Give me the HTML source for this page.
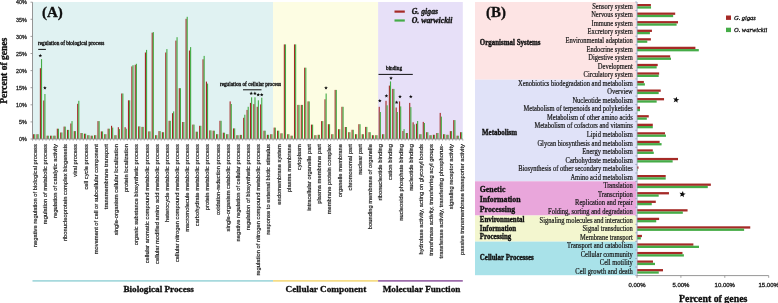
<!DOCTYPE html><html><head><meta charset="utf-8"><style>html,body{margin:0;padding:0;background:#fff;width:778px;height:303px;overflow:hidden}svg{display:block}text{font-family:"Liberation Serif",serif}.s{font-family:"Liberation Sans",sans-serif}</style></head><body>
<svg width="778" height="303" viewBox="0 0 778 303">
<defs><filter id="bl" x="0" y="0" width="100%" height="100%"><feGaussianBlur stdDeviation="0.35"/></filter></defs>
<rect width="778" height="303" fill="#fff"/>
<g filter="url(#bl)">
<rect x="32.5" y="2.00" width="240.56" height="137.00" fill="#e0f2f2"/>
<rect x="273.06" y="2.00" width="105.03" height="137.00" fill="#fdfde3"/>
<rect x="378.10" y="2.00" width="84.70" height="137.00" fill="#e7e0f8"/>
<rect x="33.07" y="134.20" width="1.12" height="4.80" fill="#a52a27"/>
<rect x="34.19" y="134.20" width="1.12" height="4.80" fill="#45ac47"/>
<rect x="36.46" y="134.20" width="1.12" height="4.80" fill="#a52a27"/>
<rect x="37.58" y="134.20" width="1.12" height="4.80" fill="#45ac47"/>
<rect x="39.85" y="68.20" width="1.12" height="70.80" fill="#a52a27"/>
<rect x="40.97" y="59.10" width="1.12" height="79.90" fill="#45ac47"/>
<rect x="43.24" y="100.50" width="1.12" height="38.50" fill="#a52a27"/>
<rect x="44.36" y="94.00" width="1.12" height="45.00" fill="#45ac47"/>
<rect x="46.63" y="135.70" width="1.12" height="3.30" fill="#a52a27"/>
<rect x="47.75" y="135.70" width="1.12" height="3.30" fill="#45ac47"/>
<rect x="50.02" y="135.70" width="1.12" height="3.30" fill="#a52a27"/>
<rect x="51.14" y="135.70" width="1.12" height="3.30" fill="#45ac47"/>
<rect x="53.40" y="135.70" width="1.12" height="3.30" fill="#a52a27"/>
<rect x="54.52" y="135.70" width="1.12" height="3.30" fill="#45ac47"/>
<rect x="56.79" y="128.70" width="1.12" height="10.30" fill="#a52a27"/>
<rect x="57.91" y="128.70" width="1.12" height="10.30" fill="#45ac47"/>
<rect x="60.18" y="132.50" width="1.12" height="6.50" fill="#a52a27"/>
<rect x="61.30" y="132.50" width="1.12" height="6.50" fill="#45ac47"/>
<rect x="63.57" y="126.60" width="1.12" height="12.40" fill="#a52a27"/>
<rect x="64.69" y="126.60" width="1.12" height="12.40" fill="#45ac47"/>
<rect x="66.96" y="129.90" width="1.12" height="9.10" fill="#a52a27"/>
<rect x="68.08" y="129.90" width="1.12" height="9.10" fill="#45ac47"/>
<rect x="70.34" y="123.50" width="1.12" height="15.50" fill="#a52a27"/>
<rect x="71.46" y="121.10" width="1.12" height="17.90" fill="#45ac47"/>
<rect x="73.73" y="131.10" width="1.12" height="7.90" fill="#a52a27"/>
<rect x="74.85" y="131.10" width="1.12" height="7.90" fill="#45ac47"/>
<rect x="77.12" y="103.80" width="1.12" height="35.20" fill="#a52a27"/>
<rect x="78.24" y="100.80" width="1.12" height="38.20" fill="#45ac47"/>
<rect x="80.51" y="133.00" width="1.12" height="6.00" fill="#a52a27"/>
<rect x="81.63" y="133.00" width="1.12" height="6.00" fill="#45ac47"/>
<rect x="83.90" y="133.70" width="1.12" height="5.30" fill="#a52a27"/>
<rect x="85.02" y="133.70" width="1.12" height="5.30" fill="#45ac47"/>
<rect x="87.29" y="135.20" width="1.12" height="3.80" fill="#a52a27"/>
<rect x="88.41" y="135.20" width="1.12" height="3.80" fill="#45ac47"/>
<rect x="90.67" y="135.70" width="1.12" height="3.30" fill="#a52a27"/>
<rect x="91.79" y="135.70" width="1.12" height="3.30" fill="#45ac47"/>
<rect x="94.06" y="135.20" width="1.12" height="3.80" fill="#a52a27"/>
<rect x="95.18" y="135.20" width="1.12" height="3.80" fill="#45ac47"/>
<rect x="97.45" y="121.10" width="1.12" height="17.90" fill="#a52a27"/>
<rect x="98.57" y="121.10" width="1.12" height="17.90" fill="#45ac47"/>
<rect x="100.84" y="131.40" width="1.12" height="7.60" fill="#a52a27"/>
<rect x="101.96" y="131.40" width="1.12" height="7.60" fill="#45ac47"/>
<rect x="104.23" y="134.20" width="1.12" height="4.80" fill="#a52a27"/>
<rect x="105.35" y="134.20" width="1.12" height="4.80" fill="#45ac47"/>
<rect x="107.61" y="128.70" width="1.12" height="10.30" fill="#a52a27"/>
<rect x="108.73" y="128.70" width="1.12" height="10.30" fill="#45ac47"/>
<rect x="111.00" y="125.80" width="1.12" height="13.20" fill="#a52a27"/>
<rect x="112.12" y="127.60" width="1.12" height="11.40" fill="#45ac47"/>
<rect x="114.39" y="135.20" width="1.12" height="3.80" fill="#a52a27"/>
<rect x="115.51" y="135.20" width="1.12" height="3.80" fill="#45ac47"/>
<rect x="117.78" y="127.20" width="1.12" height="11.80" fill="#a52a27"/>
<rect x="118.90" y="129.10" width="1.12" height="9.90" fill="#45ac47"/>
<rect x="121.17" y="93.50" width="1.12" height="45.50" fill="#a52a27"/>
<rect x="122.29" y="93.50" width="1.12" height="45.50" fill="#45ac47"/>
<rect x="124.56" y="127.20" width="1.12" height="11.80" fill="#a52a27"/>
<rect x="125.68" y="128.70" width="1.12" height="10.30" fill="#45ac47"/>
<rect x="127.94" y="100.30" width="1.12" height="38.70" fill="#a52a27"/>
<rect x="129.06" y="100.30" width="1.12" height="38.70" fill="#45ac47"/>
<rect x="131.33" y="66.40" width="1.12" height="72.60" fill="#a52a27"/>
<rect x="132.45" y="65.20" width="1.12" height="73.80" fill="#45ac47"/>
<rect x="134.72" y="64.80" width="1.12" height="74.20" fill="#a52a27"/>
<rect x="135.84" y="63.80" width="1.12" height="75.20" fill="#45ac47"/>
<rect x="138.11" y="126.40" width="1.12" height="12.60" fill="#a52a27"/>
<rect x="139.23" y="126.40" width="1.12" height="12.60" fill="#45ac47"/>
<rect x="141.50" y="126.90" width="1.12" height="12.10" fill="#a52a27"/>
<rect x="142.62" y="126.90" width="1.12" height="12.10" fill="#45ac47"/>
<rect x="144.88" y="52.50" width="1.12" height="86.50" fill="#a52a27"/>
<rect x="146.00" y="49.90" width="1.12" height="89.10" fill="#45ac47"/>
<rect x="148.27" y="131.40" width="1.12" height="7.60" fill="#a52a27"/>
<rect x="149.39" y="131.40" width="1.12" height="7.60" fill="#45ac47"/>
<rect x="151.66" y="32.70" width="1.12" height="106.30" fill="#a52a27"/>
<rect x="152.78" y="32.10" width="1.12" height="106.90" fill="#45ac47"/>
<rect x="155.05" y="135.20" width="1.12" height="3.80" fill="#a52a27"/>
<rect x="156.17" y="135.20" width="1.12" height="3.80" fill="#45ac47"/>
<rect x="158.44" y="131.10" width="1.12" height="7.90" fill="#a52a27"/>
<rect x="159.56" y="131.10" width="1.12" height="7.90" fill="#45ac47"/>
<rect x="161.83" y="132.20" width="1.12" height="6.80" fill="#a52a27"/>
<rect x="162.95" y="132.20" width="1.12" height="6.80" fill="#45ac47"/>
<rect x="165.21" y="52.50" width="1.12" height="86.50" fill="#a52a27"/>
<rect x="166.33" y="49.10" width="1.12" height="89.90" fill="#45ac47"/>
<rect x="168.60" y="120.80" width="1.12" height="18.20" fill="#a52a27"/>
<rect x="169.72" y="120.80" width="1.12" height="18.20" fill="#45ac47"/>
<rect x="171.99" y="113.20" width="1.12" height="25.80" fill="#a52a27"/>
<rect x="173.11" y="111.40" width="1.12" height="27.60" fill="#45ac47"/>
<rect x="175.38" y="40.60" width="1.12" height="98.40" fill="#a52a27"/>
<rect x="176.50" y="37.20" width="1.12" height="101.80" fill="#45ac47"/>
<rect x="178.77" y="88.20" width="1.12" height="50.80" fill="#a52a27"/>
<rect x="179.89" y="88.20" width="1.12" height="50.80" fill="#45ac47"/>
<rect x="182.15" y="122.00" width="1.12" height="17.00" fill="#a52a27"/>
<rect x="183.27" y="122.00" width="1.12" height="17.00" fill="#45ac47"/>
<rect x="185.54" y="18.80" width="1.12" height="120.20" fill="#a52a27"/>
<rect x="186.66" y="16.80" width="1.12" height="122.20" fill="#45ac47"/>
<rect x="188.93" y="50.50" width="1.12" height="88.50" fill="#a52a27"/>
<rect x="190.05" y="47.10" width="1.12" height="91.90" fill="#45ac47"/>
<rect x="192.32" y="124.60" width="1.12" height="14.40" fill="#a52a27"/>
<rect x="193.44" y="124.60" width="1.12" height="14.40" fill="#45ac47"/>
<rect x="195.71" y="131.70" width="1.12" height="7.30" fill="#a52a27"/>
<rect x="196.83" y="131.70" width="1.12" height="7.30" fill="#45ac47"/>
<rect x="199.10" y="125.80" width="1.12" height="13.20" fill="#a52a27"/>
<rect x="200.22" y="125.80" width="1.12" height="13.20" fill="#45ac47"/>
<rect x="202.48" y="59.30" width="1.12" height="79.70" fill="#a52a27"/>
<rect x="203.60" y="55.90" width="1.12" height="83.10" fill="#45ac47"/>
<rect x="205.87" y="81.60" width="1.12" height="57.40" fill="#a52a27"/>
<rect x="206.99" y="83.60" width="1.12" height="55.40" fill="#45ac47"/>
<rect x="209.26" y="130.40" width="1.12" height="8.60" fill="#a52a27"/>
<rect x="210.38" y="130.40" width="1.12" height="8.60" fill="#45ac47"/>
<rect x="212.65" y="130.70" width="1.12" height="8.30" fill="#a52a27"/>
<rect x="213.77" y="130.70" width="1.12" height="8.30" fill="#45ac47"/>
<rect x="216.04" y="134.20" width="1.12" height="4.80" fill="#a52a27"/>
<rect x="217.16" y="134.20" width="1.12" height="4.80" fill="#45ac47"/>
<rect x="219.42" y="120.80" width="1.12" height="18.20" fill="#a52a27"/>
<rect x="220.54" y="120.80" width="1.12" height="18.20" fill="#45ac47"/>
<rect x="222.81" y="132.70" width="1.12" height="6.30" fill="#a52a27"/>
<rect x="223.93" y="132.70" width="1.12" height="6.30" fill="#45ac47"/>
<rect x="226.20" y="134.20" width="1.12" height="4.80" fill="#a52a27"/>
<rect x="227.32" y="134.20" width="1.12" height="4.80" fill="#45ac47"/>
<rect x="229.59" y="101.40" width="1.12" height="37.60" fill="#a52a27"/>
<rect x="230.71" y="104.00" width="1.12" height="35.00" fill="#45ac47"/>
<rect x="232.98" y="128.40" width="1.12" height="10.60" fill="#a52a27"/>
<rect x="234.10" y="128.40" width="1.12" height="10.60" fill="#45ac47"/>
<rect x="236.37" y="135.20" width="1.12" height="3.80" fill="#a52a27"/>
<rect x="237.49" y="135.20" width="1.12" height="3.80" fill="#45ac47"/>
<rect x="239.75" y="134.90" width="1.12" height="4.10" fill="#a52a27"/>
<rect x="240.87" y="134.90" width="1.12" height="4.10" fill="#45ac47"/>
<rect x="243.14" y="117.80" width="1.12" height="21.20" fill="#a52a27"/>
<rect x="244.26" y="114.70" width="1.12" height="24.30" fill="#45ac47"/>
<rect x="246.53" y="109.90" width="1.12" height="29.10" fill="#a52a27"/>
<rect x="247.65" y="106.80" width="1.12" height="32.20" fill="#45ac47"/>
<rect x="249.92" y="102.90" width="1.12" height="36.10" fill="#a52a27"/>
<rect x="251.04" y="97.30" width="1.12" height="41.70" fill="#45ac47"/>
<rect x="253.31" y="104.10" width="1.12" height="34.90" fill="#a52a27"/>
<rect x="254.43" y="97.30" width="1.12" height="41.70" fill="#45ac47"/>
<rect x="256.69" y="106.80" width="1.12" height="32.20" fill="#a52a27"/>
<rect x="257.81" y="100.30" width="1.12" height="38.70" fill="#45ac47"/>
<rect x="260.08" y="104.40" width="1.12" height="34.60" fill="#a52a27"/>
<rect x="261.20" y="97.70" width="1.12" height="41.30" fill="#45ac47"/>
<rect x="263.47" y="130.70" width="1.12" height="8.30" fill="#a52a27"/>
<rect x="264.59" y="130.70" width="1.12" height="8.30" fill="#45ac47"/>
<rect x="266.86" y="134.80" width="1.12" height="4.20" fill="#a52a27"/>
<rect x="267.98" y="134.80" width="1.12" height="4.20" fill="#45ac47"/>
<rect x="270.25" y="134.20" width="1.12" height="4.80" fill="#a52a27"/>
<rect x="271.37" y="134.20" width="1.12" height="4.80" fill="#45ac47"/>
<rect x="273.64" y="127.60" width="1.12" height="11.40" fill="#a52a27"/>
<rect x="274.76" y="127.60" width="1.12" height="11.40" fill="#45ac47"/>
<rect x="277.02" y="130.70" width="1.12" height="8.30" fill="#a52a27"/>
<rect x="278.14" y="130.70" width="1.12" height="8.30" fill="#45ac47"/>
<rect x="280.41" y="133.30" width="1.12" height="5.70" fill="#a52a27"/>
<rect x="281.53" y="133.30" width="1.12" height="5.70" fill="#45ac47"/>
<rect x="283.80" y="44.40" width="1.12" height="94.60" fill="#a52a27"/>
<rect x="284.92" y="44.40" width="1.12" height="94.60" fill="#45ac47"/>
<rect x="287.19" y="134.20" width="1.12" height="4.80" fill="#a52a27"/>
<rect x="288.31" y="134.20" width="1.12" height="4.80" fill="#45ac47"/>
<rect x="290.58" y="135.70" width="1.12" height="3.30" fill="#a52a27"/>
<rect x="291.70" y="135.70" width="1.12" height="3.30" fill="#45ac47"/>
<rect x="293.96" y="44.40" width="1.12" height="94.60" fill="#a52a27"/>
<rect x="295.08" y="44.40" width="1.12" height="94.60" fill="#45ac47"/>
<rect x="297.35" y="104.90" width="1.12" height="34.10" fill="#a52a27"/>
<rect x="298.47" y="104.90" width="1.12" height="34.10" fill="#45ac47"/>
<rect x="300.74" y="104.90" width="1.12" height="34.10" fill="#a52a27"/>
<rect x="301.86" y="104.90" width="1.12" height="34.10" fill="#45ac47"/>
<rect x="304.13" y="67.70" width="1.12" height="71.30" fill="#a52a27"/>
<rect x="305.25" y="67.70" width="1.12" height="71.30" fill="#45ac47"/>
<rect x="307.52" y="101.40" width="1.12" height="37.60" fill="#a52a27"/>
<rect x="308.64" y="101.40" width="1.12" height="37.60" fill="#45ac47"/>
<rect x="310.91" y="124.60" width="1.12" height="14.40" fill="#a52a27"/>
<rect x="312.03" y="124.60" width="1.12" height="14.40" fill="#45ac47"/>
<rect x="314.29" y="135.20" width="1.12" height="3.80" fill="#a52a27"/>
<rect x="315.41" y="135.20" width="1.12" height="3.80" fill="#45ac47"/>
<rect x="317.68" y="134.80" width="1.12" height="4.20" fill="#a52a27"/>
<rect x="318.80" y="134.80" width="1.12" height="4.20" fill="#45ac47"/>
<rect x="321.07" y="121.10" width="1.12" height="17.90" fill="#a52a27"/>
<rect x="322.19" y="121.10" width="1.12" height="17.90" fill="#45ac47"/>
<rect x="324.46" y="99.30" width="1.12" height="39.70" fill="#a52a27"/>
<rect x="325.58" y="93.50" width="1.12" height="45.50" fill="#45ac47"/>
<rect x="327.85" y="124.20" width="1.12" height="14.80" fill="#a52a27"/>
<rect x="328.97" y="124.20" width="1.12" height="14.80" fill="#45ac47"/>
<rect x="331.23" y="134.20" width="1.12" height="4.80" fill="#a52a27"/>
<rect x="332.35" y="134.20" width="1.12" height="4.80" fill="#45ac47"/>
<rect x="334.62" y="89.90" width="1.12" height="49.10" fill="#a52a27"/>
<rect x="335.74" y="89.90" width="1.12" height="49.10" fill="#45ac47"/>
<rect x="338.01" y="129.20" width="1.12" height="9.80" fill="#a52a27"/>
<rect x="339.13" y="129.20" width="1.12" height="9.80" fill="#45ac47"/>
<rect x="341.40" y="106.80" width="1.12" height="32.20" fill="#a52a27"/>
<rect x="342.52" y="106.80" width="1.12" height="32.20" fill="#45ac47"/>
<rect x="344.79" y="127.00" width="1.12" height="12.00" fill="#a52a27"/>
<rect x="345.91" y="127.00" width="1.12" height="12.00" fill="#45ac47"/>
<rect x="348.18" y="132.20" width="1.12" height="6.80" fill="#a52a27"/>
<rect x="349.30" y="132.20" width="1.12" height="6.80" fill="#45ac47"/>
<rect x="351.56" y="129.80" width="1.12" height="9.20" fill="#a52a27"/>
<rect x="352.68" y="129.80" width="1.12" height="9.20" fill="#45ac47"/>
<rect x="354.95" y="134.20" width="1.12" height="4.80" fill="#a52a27"/>
<rect x="356.07" y="134.20" width="1.12" height="4.80" fill="#45ac47"/>
<rect x="358.34" y="124.20" width="1.12" height="14.80" fill="#a52a27"/>
<rect x="359.46" y="124.20" width="1.12" height="14.80" fill="#45ac47"/>
<rect x="361.73" y="134.20" width="1.12" height="4.80" fill="#a52a27"/>
<rect x="362.85" y="134.20" width="1.12" height="4.80" fill="#45ac47"/>
<rect x="365.12" y="126.90" width="1.12" height="12.10" fill="#a52a27"/>
<rect x="366.24" y="126.90" width="1.12" height="12.10" fill="#45ac47"/>
<rect x="368.50" y="132.20" width="1.12" height="6.80" fill="#a52a27"/>
<rect x="369.62" y="132.20" width="1.12" height="6.80" fill="#45ac47"/>
<rect x="371.89" y="135.20" width="1.12" height="3.80" fill="#a52a27"/>
<rect x="373.01" y="135.20" width="1.12" height="3.80" fill="#45ac47"/>
<rect x="375.28" y="135.20" width="1.12" height="3.80" fill="#a52a27"/>
<rect x="376.40" y="135.20" width="1.12" height="3.80" fill="#45ac47"/>
<rect x="378.67" y="106.80" width="1.12" height="32.20" fill="#a52a27"/>
<rect x="379.79" y="112.00" width="1.12" height="27.00" fill="#45ac47"/>
<rect x="382.06" y="134.20" width="1.12" height="4.80" fill="#a52a27"/>
<rect x="383.18" y="134.20" width="1.12" height="4.80" fill="#45ac47"/>
<rect x="385.45" y="100.80" width="1.12" height="38.20" fill="#a52a27"/>
<rect x="386.57" y="105.30" width="1.12" height="33.70" fill="#45ac47"/>
<rect x="388.83" y="85.60" width="1.12" height="53.40" fill="#a52a27"/>
<rect x="389.95" y="81.40" width="1.12" height="57.60" fill="#45ac47"/>
<rect x="392.22" y="88.90" width="1.12" height="50.10" fill="#a52a27"/>
<rect x="393.34" y="88.90" width="1.12" height="50.10" fill="#45ac47"/>
<rect x="395.61" y="107.50" width="1.12" height="31.50" fill="#a52a27"/>
<rect x="396.73" y="112.00" width="1.12" height="27.00" fill="#45ac47"/>
<rect x="399.00" y="101.40" width="1.12" height="37.60" fill="#a52a27"/>
<rect x="400.12" y="106.40" width="1.12" height="32.60" fill="#45ac47"/>
<rect x="402.39" y="131.00" width="1.12" height="8.00" fill="#a52a27"/>
<rect x="403.51" y="129.10" width="1.12" height="9.90" fill="#45ac47"/>
<rect x="405.77" y="133.00" width="1.12" height="6.00" fill="#a52a27"/>
<rect x="406.89" y="133.00" width="1.12" height="6.00" fill="#45ac47"/>
<rect x="409.16" y="102.90" width="1.12" height="36.10" fill="#a52a27"/>
<rect x="410.28" y="107.10" width="1.12" height="31.90" fill="#45ac47"/>
<rect x="412.55" y="122.30" width="1.12" height="16.70" fill="#a52a27"/>
<rect x="413.67" y="124.40" width="1.12" height="14.60" fill="#45ac47"/>
<rect x="415.94" y="123.70" width="1.12" height="15.30" fill="#a52a27"/>
<rect x="417.06" y="121.00" width="1.12" height="18.00" fill="#45ac47"/>
<rect x="419.33" y="134.20" width="1.12" height="4.80" fill="#a52a27"/>
<rect x="420.45" y="134.20" width="1.12" height="4.80" fill="#45ac47"/>
<rect x="422.72" y="121.90" width="1.12" height="17.10" fill="#a52a27"/>
<rect x="423.84" y="123.00" width="1.12" height="16.00" fill="#45ac47"/>
<rect x="426.10" y="132.20" width="1.12" height="6.80" fill="#a52a27"/>
<rect x="427.22" y="132.20" width="1.12" height="6.80" fill="#45ac47"/>
<rect x="429.49" y="135.20" width="1.12" height="3.80" fill="#a52a27"/>
<rect x="430.61" y="135.20" width="1.12" height="3.80" fill="#45ac47"/>
<rect x="432.88" y="134.80" width="1.12" height="4.20" fill="#a52a27"/>
<rect x="434.00" y="134.80" width="1.12" height="4.20" fill="#45ac47"/>
<rect x="436.27" y="133.00" width="1.12" height="6.00" fill="#a52a27"/>
<rect x="437.39" y="133.00" width="1.12" height="6.00" fill="#45ac47"/>
<rect x="439.66" y="112.90" width="1.12" height="26.10" fill="#a52a27"/>
<rect x="440.78" y="116.60" width="1.12" height="22.40" fill="#45ac47"/>
<rect x="443.04" y="134.20" width="1.12" height="4.80" fill="#a52a27"/>
<rect x="444.16" y="134.20" width="1.12" height="4.80" fill="#45ac47"/>
<rect x="446.43" y="134.80" width="1.12" height="4.20" fill="#a52a27"/>
<rect x="447.55" y="134.80" width="1.12" height="4.20" fill="#45ac47"/>
<rect x="449.82" y="131.10" width="1.12" height="7.90" fill="#a52a27"/>
<rect x="450.94" y="131.10" width="1.12" height="7.90" fill="#45ac47"/>
<rect x="453.21" y="120.10" width="1.12" height="18.90" fill="#a52a27"/>
<rect x="454.33" y="120.10" width="1.12" height="18.90" fill="#45ac47"/>
<rect x="456.60" y="135.70" width="1.12" height="3.30" fill="#a52a27"/>
<rect x="457.72" y="135.70" width="1.12" height="3.30" fill="#45ac47"/>
<rect x="459.99" y="132.20" width="1.12" height="6.80" fill="#a52a27"/>
<rect x="461.11" y="132.20" width="1.12" height="6.80" fill="#45ac47"/>
<line x1="32.5" y1="2.2" x2="32.5" y2="139.0" stroke="#8a8a8a" stroke-width="0.9"/>
<line x1="30.5" y1="139.00" x2="32.5" y2="139.00" stroke="#8a8a8a" stroke-width="0.8"/>
<text class="s" transform="translate(26.80,141.20) scale(0.88,1)" font-size="6.2" fill="#2a2a2a" stroke="#2a2a2a" stroke-width="0.3" text-anchor="end">0%</text>
<line x1="30.5" y1="121.90" x2="32.5" y2="121.90" stroke="#8a8a8a" stroke-width="0.8"/>
<text class="s" transform="translate(26.80,124.10) scale(0.88,1)" font-size="6.2" fill="#2a2a2a" stroke="#2a2a2a" stroke-width="0.3" text-anchor="end">5%</text>
<line x1="30.5" y1="104.80" x2="32.5" y2="104.80" stroke="#8a8a8a" stroke-width="0.8"/>
<text class="s" transform="translate(26.80,107.00) scale(0.88,1)" font-size="6.2" fill="#2a2a2a" stroke="#2a2a2a" stroke-width="0.3" text-anchor="end">10%</text>
<line x1="30.5" y1="87.70" x2="32.5" y2="87.70" stroke="#8a8a8a" stroke-width="0.8"/>
<text class="s" transform="translate(26.80,89.90) scale(0.88,1)" font-size="6.2" fill="#2a2a2a" stroke="#2a2a2a" stroke-width="0.3" text-anchor="end">15%</text>
<line x1="30.5" y1="70.60" x2="32.5" y2="70.60" stroke="#8a8a8a" stroke-width="0.8"/>
<text class="s" transform="translate(26.80,72.80) scale(0.88,1)" font-size="6.2" fill="#2a2a2a" stroke="#2a2a2a" stroke-width="0.3" text-anchor="end">20%</text>
<line x1="30.5" y1="53.50" x2="32.5" y2="53.50" stroke="#8a8a8a" stroke-width="0.8"/>
<text class="s" transform="translate(26.80,55.70) scale(0.88,1)" font-size="6.2" fill="#2a2a2a" stroke="#2a2a2a" stroke-width="0.3" text-anchor="end">25%</text>
<line x1="30.5" y1="36.40" x2="32.5" y2="36.40" stroke="#8a8a8a" stroke-width="0.8"/>
<text class="s" transform="translate(26.80,38.60) scale(0.88,1)" font-size="6.2" fill="#2a2a2a" stroke="#2a2a2a" stroke-width="0.3" text-anchor="end">30%</text>
<line x1="30.5" y1="19.30" x2="32.5" y2="19.30" stroke="#8a8a8a" stroke-width="0.8"/>
<text class="s" transform="translate(26.80,21.50) scale(0.88,1)" font-size="6.2" fill="#2a2a2a" stroke="#2a2a2a" stroke-width="0.3" text-anchor="end">35%</text>
<line x1="30.5" y1="2.20" x2="32.5" y2="2.20" stroke="#8a8a8a" stroke-width="0.8"/>
<text class="s" transform="translate(26.80,4.40) scale(0.88,1)" font-size="6.2" fill="#2a2a2a" stroke="#2a2a2a" stroke-width="0.3" text-anchor="end">40%</text>
<line x1="32.5" y1="139.0" x2="462.8" y2="139.0" stroke="#8a8a8a" stroke-width="0.9"/>
<line x1="32.50" y1="139.0" x2="32.50" y2="140.8" stroke="#8a8a8a" stroke-width="0.6"/>
<line x1="35.89" y1="139.0" x2="35.89" y2="140.8" stroke="#8a8a8a" stroke-width="0.6"/>
<line x1="39.28" y1="139.0" x2="39.28" y2="140.8" stroke="#8a8a8a" stroke-width="0.6"/>
<line x1="42.66" y1="139.0" x2="42.66" y2="140.8" stroke="#8a8a8a" stroke-width="0.6"/>
<line x1="46.05" y1="139.0" x2="46.05" y2="140.8" stroke="#8a8a8a" stroke-width="0.6"/>
<line x1="49.44" y1="139.0" x2="49.44" y2="140.8" stroke="#8a8a8a" stroke-width="0.6"/>
<line x1="52.83" y1="139.0" x2="52.83" y2="140.8" stroke="#8a8a8a" stroke-width="0.6"/>
<line x1="56.22" y1="139.0" x2="56.22" y2="140.8" stroke="#8a8a8a" stroke-width="0.6"/>
<line x1="59.61" y1="139.0" x2="59.61" y2="140.8" stroke="#8a8a8a" stroke-width="0.6"/>
<line x1="62.99" y1="139.0" x2="62.99" y2="140.8" stroke="#8a8a8a" stroke-width="0.6"/>
<line x1="66.38" y1="139.0" x2="66.38" y2="140.8" stroke="#8a8a8a" stroke-width="0.6"/>
<line x1="69.77" y1="139.0" x2="69.77" y2="140.8" stroke="#8a8a8a" stroke-width="0.6"/>
<line x1="73.16" y1="139.0" x2="73.16" y2="140.8" stroke="#8a8a8a" stroke-width="0.6"/>
<line x1="76.55" y1="139.0" x2="76.55" y2="140.8" stroke="#8a8a8a" stroke-width="0.6"/>
<line x1="79.93" y1="139.0" x2="79.93" y2="140.8" stroke="#8a8a8a" stroke-width="0.6"/>
<line x1="83.32" y1="139.0" x2="83.32" y2="140.8" stroke="#8a8a8a" stroke-width="0.6"/>
<line x1="86.71" y1="139.0" x2="86.71" y2="140.8" stroke="#8a8a8a" stroke-width="0.6"/>
<line x1="90.10" y1="139.0" x2="90.10" y2="140.8" stroke="#8a8a8a" stroke-width="0.6"/>
<line x1="93.49" y1="139.0" x2="93.49" y2="140.8" stroke="#8a8a8a" stroke-width="0.6"/>
<line x1="96.88" y1="139.0" x2="96.88" y2="140.8" stroke="#8a8a8a" stroke-width="0.6"/>
<line x1="100.26" y1="139.0" x2="100.26" y2="140.8" stroke="#8a8a8a" stroke-width="0.6"/>
<line x1="103.65" y1="139.0" x2="103.65" y2="140.8" stroke="#8a8a8a" stroke-width="0.6"/>
<line x1="107.04" y1="139.0" x2="107.04" y2="140.8" stroke="#8a8a8a" stroke-width="0.6"/>
<line x1="110.43" y1="139.0" x2="110.43" y2="140.8" stroke="#8a8a8a" stroke-width="0.6"/>
<line x1="113.82" y1="139.0" x2="113.82" y2="140.8" stroke="#8a8a8a" stroke-width="0.6"/>
<line x1="117.20" y1="139.0" x2="117.20" y2="140.8" stroke="#8a8a8a" stroke-width="0.6"/>
<line x1="120.59" y1="139.0" x2="120.59" y2="140.8" stroke="#8a8a8a" stroke-width="0.6"/>
<line x1="123.98" y1="139.0" x2="123.98" y2="140.8" stroke="#8a8a8a" stroke-width="0.6"/>
<line x1="127.37" y1="139.0" x2="127.37" y2="140.8" stroke="#8a8a8a" stroke-width="0.6"/>
<line x1="130.76" y1="139.0" x2="130.76" y2="140.8" stroke="#8a8a8a" stroke-width="0.6"/>
<line x1="134.15" y1="139.0" x2="134.15" y2="140.8" stroke="#8a8a8a" stroke-width="0.6"/>
<line x1="137.53" y1="139.0" x2="137.53" y2="140.8" stroke="#8a8a8a" stroke-width="0.6"/>
<line x1="140.92" y1="139.0" x2="140.92" y2="140.8" stroke="#8a8a8a" stroke-width="0.6"/>
<line x1="144.31" y1="139.0" x2="144.31" y2="140.8" stroke="#8a8a8a" stroke-width="0.6"/>
<line x1="147.70" y1="139.0" x2="147.70" y2="140.8" stroke="#8a8a8a" stroke-width="0.6"/>
<line x1="151.09" y1="139.0" x2="151.09" y2="140.8" stroke="#8a8a8a" stroke-width="0.6"/>
<line x1="154.47" y1="139.0" x2="154.47" y2="140.8" stroke="#8a8a8a" stroke-width="0.6"/>
<line x1="157.86" y1="139.0" x2="157.86" y2="140.8" stroke="#8a8a8a" stroke-width="0.6"/>
<line x1="161.25" y1="139.0" x2="161.25" y2="140.8" stroke="#8a8a8a" stroke-width="0.6"/>
<line x1="164.64" y1="139.0" x2="164.64" y2="140.8" stroke="#8a8a8a" stroke-width="0.6"/>
<line x1="168.03" y1="139.0" x2="168.03" y2="140.8" stroke="#8a8a8a" stroke-width="0.6"/>
<line x1="171.42" y1="139.0" x2="171.42" y2="140.8" stroke="#8a8a8a" stroke-width="0.6"/>
<line x1="174.80" y1="139.0" x2="174.80" y2="140.8" stroke="#8a8a8a" stroke-width="0.6"/>
<line x1="178.19" y1="139.0" x2="178.19" y2="140.8" stroke="#8a8a8a" stroke-width="0.6"/>
<line x1="181.58" y1="139.0" x2="181.58" y2="140.8" stroke="#8a8a8a" stroke-width="0.6"/>
<line x1="184.97" y1="139.0" x2="184.97" y2="140.8" stroke="#8a8a8a" stroke-width="0.6"/>
<line x1="188.36" y1="139.0" x2="188.36" y2="140.8" stroke="#8a8a8a" stroke-width="0.6"/>
<line x1="191.74" y1="139.0" x2="191.74" y2="140.8" stroke="#8a8a8a" stroke-width="0.6"/>
<line x1="195.13" y1="139.0" x2="195.13" y2="140.8" stroke="#8a8a8a" stroke-width="0.6"/>
<line x1="198.52" y1="139.0" x2="198.52" y2="140.8" stroke="#8a8a8a" stroke-width="0.6"/>
<line x1="201.91" y1="139.0" x2="201.91" y2="140.8" stroke="#8a8a8a" stroke-width="0.6"/>
<line x1="205.30" y1="139.0" x2="205.30" y2="140.8" stroke="#8a8a8a" stroke-width="0.6"/>
<line x1="208.69" y1="139.0" x2="208.69" y2="140.8" stroke="#8a8a8a" stroke-width="0.6"/>
<line x1="212.07" y1="139.0" x2="212.07" y2="140.8" stroke="#8a8a8a" stroke-width="0.6"/>
<line x1="215.46" y1="139.0" x2="215.46" y2="140.8" stroke="#8a8a8a" stroke-width="0.6"/>
<line x1="218.85" y1="139.0" x2="218.85" y2="140.8" stroke="#8a8a8a" stroke-width="0.6"/>
<line x1="222.24" y1="139.0" x2="222.24" y2="140.8" stroke="#8a8a8a" stroke-width="0.6"/>
<line x1="225.63" y1="139.0" x2="225.63" y2="140.8" stroke="#8a8a8a" stroke-width="0.6"/>
<line x1="229.01" y1="139.0" x2="229.01" y2="140.8" stroke="#8a8a8a" stroke-width="0.6"/>
<line x1="232.40" y1="139.0" x2="232.40" y2="140.8" stroke="#8a8a8a" stroke-width="0.6"/>
<line x1="235.79" y1="139.0" x2="235.79" y2="140.8" stroke="#8a8a8a" stroke-width="0.6"/>
<line x1="239.18" y1="139.0" x2="239.18" y2="140.8" stroke="#8a8a8a" stroke-width="0.6"/>
<line x1="242.57" y1="139.0" x2="242.57" y2="140.8" stroke="#8a8a8a" stroke-width="0.6"/>
<line x1="245.96" y1="139.0" x2="245.96" y2="140.8" stroke="#8a8a8a" stroke-width="0.6"/>
<line x1="249.34" y1="139.0" x2="249.34" y2="140.8" stroke="#8a8a8a" stroke-width="0.6"/>
<line x1="252.73" y1="139.0" x2="252.73" y2="140.8" stroke="#8a8a8a" stroke-width="0.6"/>
<line x1="256.12" y1="139.0" x2="256.12" y2="140.8" stroke="#8a8a8a" stroke-width="0.6"/>
<line x1="259.51" y1="139.0" x2="259.51" y2="140.8" stroke="#8a8a8a" stroke-width="0.6"/>
<line x1="262.90" y1="139.0" x2="262.90" y2="140.8" stroke="#8a8a8a" stroke-width="0.6"/>
<line x1="266.29" y1="139.0" x2="266.29" y2="140.8" stroke="#8a8a8a" stroke-width="0.6"/>
<line x1="269.67" y1="139.0" x2="269.67" y2="140.8" stroke="#8a8a8a" stroke-width="0.6"/>
<line x1="273.06" y1="139.0" x2="273.06" y2="140.8" stroke="#8a8a8a" stroke-width="0.6"/>
<line x1="276.45" y1="139.0" x2="276.45" y2="140.8" stroke="#8a8a8a" stroke-width="0.6"/>
<line x1="279.84" y1="139.0" x2="279.84" y2="140.8" stroke="#8a8a8a" stroke-width="0.6"/>
<line x1="283.23" y1="139.0" x2="283.23" y2="140.8" stroke="#8a8a8a" stroke-width="0.6"/>
<line x1="286.61" y1="139.0" x2="286.61" y2="140.8" stroke="#8a8a8a" stroke-width="0.6"/>
<line x1="290.00" y1="139.0" x2="290.00" y2="140.8" stroke="#8a8a8a" stroke-width="0.6"/>
<line x1="293.39" y1="139.0" x2="293.39" y2="140.8" stroke="#8a8a8a" stroke-width="0.6"/>
<line x1="296.78" y1="139.0" x2="296.78" y2="140.8" stroke="#8a8a8a" stroke-width="0.6"/>
<line x1="300.17" y1="139.0" x2="300.17" y2="140.8" stroke="#8a8a8a" stroke-width="0.6"/>
<line x1="303.56" y1="139.0" x2="303.56" y2="140.8" stroke="#8a8a8a" stroke-width="0.6"/>
<line x1="306.94" y1="139.0" x2="306.94" y2="140.8" stroke="#8a8a8a" stroke-width="0.6"/>
<line x1="310.33" y1="139.0" x2="310.33" y2="140.8" stroke="#8a8a8a" stroke-width="0.6"/>
<line x1="313.72" y1="139.0" x2="313.72" y2="140.8" stroke="#8a8a8a" stroke-width="0.6"/>
<line x1="317.11" y1="139.0" x2="317.11" y2="140.8" stroke="#8a8a8a" stroke-width="0.6"/>
<line x1="320.50" y1="139.0" x2="320.50" y2="140.8" stroke="#8a8a8a" stroke-width="0.6"/>
<line x1="323.88" y1="139.0" x2="323.88" y2="140.8" stroke="#8a8a8a" stroke-width="0.6"/>
<line x1="327.27" y1="139.0" x2="327.27" y2="140.8" stroke="#8a8a8a" stroke-width="0.6"/>
<line x1="330.66" y1="139.0" x2="330.66" y2="140.8" stroke="#8a8a8a" stroke-width="0.6"/>
<line x1="334.05" y1="139.0" x2="334.05" y2="140.8" stroke="#8a8a8a" stroke-width="0.6"/>
<line x1="337.44" y1="139.0" x2="337.44" y2="140.8" stroke="#8a8a8a" stroke-width="0.6"/>
<line x1="340.83" y1="139.0" x2="340.83" y2="140.8" stroke="#8a8a8a" stroke-width="0.6"/>
<line x1="344.21" y1="139.0" x2="344.21" y2="140.8" stroke="#8a8a8a" stroke-width="0.6"/>
<line x1="347.60" y1="139.0" x2="347.60" y2="140.8" stroke="#8a8a8a" stroke-width="0.6"/>
<line x1="350.99" y1="139.0" x2="350.99" y2="140.8" stroke="#8a8a8a" stroke-width="0.6"/>
<line x1="354.38" y1="139.0" x2="354.38" y2="140.8" stroke="#8a8a8a" stroke-width="0.6"/>
<line x1="357.77" y1="139.0" x2="357.77" y2="140.8" stroke="#8a8a8a" stroke-width="0.6"/>
<line x1="361.15" y1="139.0" x2="361.15" y2="140.8" stroke="#8a8a8a" stroke-width="0.6"/>
<line x1="364.54" y1="139.0" x2="364.54" y2="140.8" stroke="#8a8a8a" stroke-width="0.6"/>
<line x1="367.93" y1="139.0" x2="367.93" y2="140.8" stroke="#8a8a8a" stroke-width="0.6"/>
<line x1="371.32" y1="139.0" x2="371.32" y2="140.8" stroke="#8a8a8a" stroke-width="0.6"/>
<line x1="374.71" y1="139.0" x2="374.71" y2="140.8" stroke="#8a8a8a" stroke-width="0.6"/>
<line x1="378.10" y1="139.0" x2="378.10" y2="140.8" stroke="#8a8a8a" stroke-width="0.6"/>
<line x1="381.48" y1="139.0" x2="381.48" y2="140.8" stroke="#8a8a8a" stroke-width="0.6"/>
<line x1="384.87" y1="139.0" x2="384.87" y2="140.8" stroke="#8a8a8a" stroke-width="0.6"/>
<line x1="388.26" y1="139.0" x2="388.26" y2="140.8" stroke="#8a8a8a" stroke-width="0.6"/>
<line x1="391.65" y1="139.0" x2="391.65" y2="140.8" stroke="#8a8a8a" stroke-width="0.6"/>
<line x1="395.04" y1="139.0" x2="395.04" y2="140.8" stroke="#8a8a8a" stroke-width="0.6"/>
<line x1="398.42" y1="139.0" x2="398.42" y2="140.8" stroke="#8a8a8a" stroke-width="0.6"/>
<line x1="401.81" y1="139.0" x2="401.81" y2="140.8" stroke="#8a8a8a" stroke-width="0.6"/>
<line x1="405.20" y1="139.0" x2="405.20" y2="140.8" stroke="#8a8a8a" stroke-width="0.6"/>
<line x1="408.59" y1="139.0" x2="408.59" y2="140.8" stroke="#8a8a8a" stroke-width="0.6"/>
<line x1="411.98" y1="139.0" x2="411.98" y2="140.8" stroke="#8a8a8a" stroke-width="0.6"/>
<line x1="415.37" y1="139.0" x2="415.37" y2="140.8" stroke="#8a8a8a" stroke-width="0.6"/>
<line x1="418.75" y1="139.0" x2="418.75" y2="140.8" stroke="#8a8a8a" stroke-width="0.6"/>
<line x1="422.14" y1="139.0" x2="422.14" y2="140.8" stroke="#8a8a8a" stroke-width="0.6"/>
<line x1="425.53" y1="139.0" x2="425.53" y2="140.8" stroke="#8a8a8a" stroke-width="0.6"/>
<line x1="428.92" y1="139.0" x2="428.92" y2="140.8" stroke="#8a8a8a" stroke-width="0.6"/>
<line x1="432.31" y1="139.0" x2="432.31" y2="140.8" stroke="#8a8a8a" stroke-width="0.6"/>
<line x1="435.69" y1="139.0" x2="435.69" y2="140.8" stroke="#8a8a8a" stroke-width="0.6"/>
<line x1="439.08" y1="139.0" x2="439.08" y2="140.8" stroke="#8a8a8a" stroke-width="0.6"/>
<line x1="442.47" y1="139.0" x2="442.47" y2="140.8" stroke="#8a8a8a" stroke-width="0.6"/>
<line x1="445.86" y1="139.0" x2="445.86" y2="140.8" stroke="#8a8a8a" stroke-width="0.6"/>
<line x1="449.25" y1="139.0" x2="449.25" y2="140.8" stroke="#8a8a8a" stroke-width="0.6"/>
<line x1="452.64" y1="139.0" x2="452.64" y2="140.8" stroke="#8a8a8a" stroke-width="0.6"/>
<line x1="456.02" y1="139.0" x2="456.02" y2="140.8" stroke="#8a8a8a" stroke-width="0.6"/>
<line x1="459.41" y1="139.0" x2="459.41" y2="140.8" stroke="#8a8a8a" stroke-width="0.6"/>
<line x1="462.80" y1="139.0" x2="462.80" y2="140.8" stroke="#8a8a8a" stroke-width="0.6"/>
<text class="s" transform="translate(36.69,144.1) rotate(-90)" font-size="5.8" fill="#1a1a1a" stroke="#1a1a1a" stroke-width="0.18" text-anchor="end">negative regulation of biological process</text>
<text class="s" transform="translate(46.86,144.1) rotate(-90)" font-size="5.8" fill="#1a1a1a" stroke="#1a1a1a" stroke-width="0.18" text-anchor="end">regulation of metabolic process</text>
<text class="s" transform="translate(57.02,144.1) rotate(-90)" font-size="5.8" fill="#1a1a1a" stroke="#1a1a1a" stroke-width="0.18" text-anchor="end">regulation of catalytic activity</text>
<text class="s" transform="translate(67.19,144.1) rotate(-90)" font-size="5.8" fill="#1a1a1a" stroke="#1a1a1a" stroke-width="0.18" text-anchor="end">ribonucleoprotein complex biogenesis</text>
<text class="s" transform="translate(77.35,144.1) rotate(-90)" font-size="5.8" fill="#1a1a1a" stroke="#1a1a1a" stroke-width="0.18" text-anchor="end">viral process</text>
<text class="s" transform="translate(87.52,144.1) rotate(-90)" font-size="5.8" fill="#1a1a1a" stroke="#1a1a1a" stroke-width="0.18" text-anchor="end">cell cycle process</text>
<text class="s" transform="translate(97.68,144.1) rotate(-90)" font-size="5.8" fill="#1a1a1a" stroke="#1a1a1a" stroke-width="0.18" text-anchor="end">movement of cell or subcellular component</text>
<text class="s" transform="translate(107.85,144.1) rotate(-90)" font-size="5.8" fill="#1a1a1a" stroke="#1a1a1a" stroke-width="0.18" text-anchor="end">transmembrane transport</text>
<text class="s" transform="translate(118.01,144.1) rotate(-90)" font-size="5.8" fill="#1a1a1a" stroke="#1a1a1a" stroke-width="0.18" text-anchor="end">single-organism cellular localization</text>
<text class="s" transform="translate(128.18,144.1) rotate(-90)" font-size="5.8" fill="#1a1a1a" stroke="#1a1a1a" stroke-width="0.18" text-anchor="end">protein localization</text>
<text class="s" transform="translate(138.34,144.1) rotate(-90)" font-size="5.8" fill="#1a1a1a" stroke="#1a1a1a" stroke-width="0.18" text-anchor="end">organic substance biosynthetic process</text>
<text class="s" transform="translate(148.50,144.1) rotate(-90)" font-size="5.8" fill="#1a1a1a" stroke="#1a1a1a" stroke-width="0.18" text-anchor="end">cellular aromatic compound metabolic process</text>
<text class="s" transform="translate(158.67,144.1) rotate(-90)" font-size="5.8" fill="#1a1a1a" stroke="#1a1a1a" stroke-width="0.18" text-anchor="end">cellular modified amino acid metabolic process</text>
<text class="s" transform="translate(168.83,144.1) rotate(-90)" font-size="5.8" fill="#1a1a1a" stroke="#1a1a1a" stroke-width="0.18" text-anchor="end">heterocycle metabolic process</text>
<text class="s" transform="translate(179.00,144.1) rotate(-90)" font-size="5.8" fill="#1a1a1a" stroke="#1a1a1a" stroke-width="0.18" text-anchor="end">cellular nitrogen compound metabolic process</text>
<text class="s" transform="translate(189.16,144.1) rotate(-90)" font-size="5.8" fill="#1a1a1a" stroke="#1a1a1a" stroke-width="0.18" text-anchor="end">macromolecule metabolic process</text>
<text class="s" transform="translate(199.33,144.1) rotate(-90)" font-size="5.8" fill="#1a1a1a" stroke="#1a1a1a" stroke-width="0.18" text-anchor="end">carbohydrate metabolic process</text>
<text class="s" transform="translate(209.49,144.1) rotate(-90)" font-size="5.8" fill="#1a1a1a" stroke="#1a1a1a" stroke-width="0.18" text-anchor="end">protein metabolic process</text>
<text class="s" transform="translate(219.66,144.1) rotate(-90)" font-size="5.8" fill="#1a1a1a" stroke="#1a1a1a" stroke-width="0.18" text-anchor="end">oxidation-reduction process</text>
<text class="s" transform="translate(229.82,144.1) rotate(-90)" font-size="5.8" fill="#1a1a1a" stroke="#1a1a1a" stroke-width="0.18" text-anchor="end">single-organism catabolic process</text>
<text class="s" transform="translate(239.99,144.1) rotate(-90)" font-size="5.8" fill="#1a1a1a" stroke="#1a1a1a" stroke-width="0.18" text-anchor="end">negative regulation of cellular process</text>
<text class="s" transform="translate(250.15,144.1) rotate(-90)" font-size="5.8" fill="#1a1a1a" stroke="#1a1a1a" stroke-width="0.18" text-anchor="end">regulation of biosynthetic process</text>
<text class="s" transform="translate(260.31,144.1) rotate(-90)" font-size="5.8" fill="#1a1a1a" stroke="#1a1a1a" stroke-width="0.18" text-anchor="end">regulation of nitrogen compound metabolic process</text>
<text class="s" transform="translate(270.48,144.1) rotate(-90)" font-size="5.8" fill="#1a1a1a" stroke="#1a1a1a" stroke-width="0.18" text-anchor="end">response to external biotic stimulus</text>
<text class="s" transform="translate(280.64,144.1) rotate(-90)" font-size="5.8" fill="#1a1a1a" stroke="#1a1a1a" stroke-width="0.18" text-anchor="end">endomembrane system</text>
<text class="s" transform="translate(290.81,144.1) rotate(-90)" font-size="5.8" fill="#1a1a1a" stroke="#1a1a1a" stroke-width="0.18" text-anchor="end">plasma membrane</text>
<text class="s" transform="translate(300.97,144.1) rotate(-90)" font-size="5.8" fill="#1a1a1a" stroke="#1a1a1a" stroke-width="0.18" text-anchor="end">cytoplasm</text>
<text class="s" transform="translate(311.14,144.1) rotate(-90)" font-size="5.8" fill="#1a1a1a" stroke="#1a1a1a" stroke-width="0.18" text-anchor="end">intracellular organelle part</text>
<text class="s" transform="translate(321.30,144.1) rotate(-90)" font-size="5.8" fill="#1a1a1a" stroke="#1a1a1a" stroke-width="0.18" text-anchor="end">plasma membrane part</text>
<text class="s" transform="translate(331.47,144.1) rotate(-90)" font-size="5.8" fill="#1a1a1a" stroke="#1a1a1a" stroke-width="0.18" text-anchor="end">membrane protein complex</text>
<text class="s" transform="translate(341.63,144.1) rotate(-90)" font-size="5.8" fill="#1a1a1a" stroke="#1a1a1a" stroke-width="0.18" text-anchor="end">organelle membrane</text>
<text class="s" transform="translate(351.80,144.1) rotate(-90)" font-size="5.8" fill="#1a1a1a" stroke="#1a1a1a" stroke-width="0.18" text-anchor="end">chromosomal part</text>
<text class="s" transform="translate(361.96,144.1) rotate(-90)" font-size="5.8" fill="#1a1a1a" stroke="#1a1a1a" stroke-width="0.18" text-anchor="end">nuclear part</text>
<text class="s" transform="translate(372.12,144.1) rotate(-90)" font-size="5.8" fill="#1a1a1a" stroke="#1a1a1a" stroke-width="0.18" text-anchor="end">bounding membrane of organelle</text>
<text class="s" transform="translate(382.29,144.1) rotate(-90)" font-size="5.8" fill="#1a1a1a" stroke="#1a1a1a" stroke-width="0.18" text-anchor="end">ribonucleotide binding</text>
<text class="s" transform="translate(392.45,144.1) rotate(-90)" font-size="5.8" fill="#1a1a1a" stroke="#1a1a1a" stroke-width="0.18" text-anchor="end">cation binding</text>
<text class="s" transform="translate(402.62,144.1) rotate(-90)" font-size="5.8" fill="#1a1a1a" stroke="#1a1a1a" stroke-width="0.18" text-anchor="end">nucleoside phosphate binding</text>
<text class="s" transform="translate(412.78,144.1) rotate(-90)" font-size="5.8" fill="#1a1a1a" stroke="#1a1a1a" stroke-width="0.18" text-anchor="end">nucleotide binding</text>
<text class="s" transform="translate(422.95,144.1) rotate(-90)" font-size="5.8" fill="#1a1a1a" stroke="#1a1a1a" stroke-width="0.18" text-anchor="end">hydrolase activity, acting on glycosyl bonds</text>
<text class="s" transform="translate(433.11,144.1) rotate(-90)" font-size="5.8" fill="#1a1a1a" stroke="#1a1a1a" stroke-width="0.18" text-anchor="end">transferase activity, transferring acyl groups</text>
<text class="s" transform="translate(443.28,144.1) rotate(-90)" font-size="5.8" fill="#1a1a1a" stroke="#1a1a1a" stroke-width="0.18" text-anchor="end">transferase activity, transferring phosphorus-</text>
<text class="s" transform="translate(453.44,144.1) rotate(-90)" font-size="5.8" fill="#1a1a1a" stroke="#1a1a1a" stroke-width="0.18" text-anchor="end">signaling receptor activity</text>
<text class="s" transform="translate(463.61,144.1) rotate(-90)" font-size="5.8" fill="#1a1a1a" stroke="#1a1a1a" stroke-width="0.18" text-anchor="end">passive transmembrane transporter activity</text>
<text transform="translate(7.0,70.8) rotate(-90)" font-size="9.5" font-weight="bold" fill="#111" text-anchor="middle" stroke="#111" stroke-width="0.32">Percent of genes</text>
<text x="41.9" y="17.3" font-size="15.0" font-weight="bold" fill="#111" stroke="#111" stroke-width="0.32">(A)</text>
<line x1="394.5" y1="11.6" x2="404.8" y2="11.6" stroke="#a52a27" stroke-width="2.2"/>
<line x1="394.5" y1="20.5" x2="404.8" y2="20.5" stroke="#45ac47" stroke-width="2.2"/>
<text x="411.7" y="14.3" font-size="7.8" font-weight="bold" font-style="italic" fill="#111" stroke="#111" stroke-width="0.32">G. gigas</text>
<text x="411.7" y="23.2" font-size="7.8" font-weight="bold" font-style="italic" fill="#111" stroke="#111" stroke-width="0.32">O. warwickii</text>
<text x="38" y="45.0" font-size="5.25" fill="#111" stroke="#111" stroke-width="0.32">regulation of biological process</text>
<line x1="38.2" y1="49.4" x2="45.9" y2="49.4" stroke="#111" stroke-width="1"/>
<text x="219.9" y="85.9" font-size="5.25" fill="#111" stroke="#111" stroke-width="0.32">regulation of cellular process</text>
<line x1="243" y1="89.8" x2="261.5" y2="89.8" stroke="#111" stroke-width="1"/>
<text x="386" y="69.7" font-size="5.25" fill="#111" stroke="#111" stroke-width="0.32">binding</text>
<line x1="378.5" y1="74.4" x2="412.8" y2="74.4" stroke="#111" stroke-width="1"/>
<polygon points="40.30,53.80 40.80,55.01 42.11,55.11 41.11,55.96 41.42,57.24 40.30,56.55 39.18,57.24 39.49,55.96 38.49,55.11 39.80,55.01" fill="#111"/>
<polygon points="44.90,86.10 45.40,87.31 46.71,87.41 45.71,88.26 46.02,89.54 44.90,88.85 43.78,89.54 44.09,88.26 43.09,87.41 44.40,87.31" fill="#111"/>
<polygon points="251.20,91.60 251.70,92.81 253.01,92.91 252.01,93.76 252.32,95.04 251.20,94.35 250.08,95.04 250.39,93.76 249.39,92.91 250.70,92.81" fill="#111"/>
<polygon points="254.90,91.60 255.40,92.81 256.71,92.91 255.71,93.76 256.02,95.04 254.90,94.35 253.78,95.04 254.09,93.76 253.09,92.91 254.40,92.81" fill="#111"/>
<polygon points="258.20,92.90 258.70,94.11 260.01,94.21 259.01,95.06 259.32,96.34 258.20,95.65 257.08,96.34 257.39,95.06 256.39,94.21 257.70,94.11" fill="#111"/>
<polygon points="261.70,92.90 262.20,94.11 263.51,94.21 262.51,95.06 262.82,96.34 261.70,95.65 260.58,96.34 260.89,95.06 259.89,94.21 261.20,94.11" fill="#111"/>
<polygon points="326.00,86.00 326.50,87.21 327.81,87.31 326.81,88.16 327.12,89.44 326.00,88.75 324.88,89.44 325.19,88.16 324.19,87.31 325.50,87.21" fill="#111"/>
<polygon points="379.80,98.90 380.30,100.11 381.61,100.21 380.61,101.06 380.92,102.34 379.80,101.65 378.68,102.34 378.99,101.06 377.99,100.21 379.30,100.11" fill="#111"/>
<polygon points="386.40,94.00 386.90,95.21 388.21,95.31 387.21,96.16 387.52,97.44 386.40,96.75 385.28,97.44 385.59,96.16 384.59,95.31 385.90,95.21" fill="#111"/>
<polygon points="391.00,76.30 391.50,77.51 392.81,77.61 391.81,78.46 392.12,79.74 391.00,79.05 389.88,79.74 390.19,78.46 389.19,77.61 390.50,77.51" fill="#111"/>
<polygon points="396.60,100.50 397.10,101.71 398.41,101.81 397.41,102.66 397.72,103.94 396.60,103.25 395.48,103.94 395.79,102.66 394.79,101.81 396.10,101.71" fill="#111"/>
<polygon points="400.00,94.80 400.50,96.01 401.81,96.11 400.81,96.96 401.12,98.24 400.00,97.55 398.88,98.24 399.19,96.96 398.19,96.11 399.50,96.01" fill="#111"/>
<polygon points="410.80,94.80 411.30,96.01 412.61,96.11 411.61,96.96 411.92,98.24 410.80,97.55 409.68,98.24 409.99,96.96 408.99,96.11 410.30,96.01" fill="#111"/>
<line x1="32.5" y1="280.8" x2="273.06" y2="280.8" stroke="#a6d9dd" stroke-width="1.7"/>
<line x1="273.06" y1="280.8" x2="378.10" y2="280.8" stroke="#f5dc86" stroke-width="1.8"/>
<line x1="378.10" y1="280.8" x2="462.8" y2="280.8" stroke="#9d6cab" stroke-width="1.8"/>
<text x="123.4" y="292.0" font-size="9.2" font-weight="bold" fill="#111" stroke="#111" stroke-width="0.32">Biological Process</text>
<text x="285.5" y="292.0" font-size="9.25" font-weight="bold" fill="#111" stroke="#111" stroke-width="0.32">Cellular Component</text>
<text x="382.7" y="292.0" font-size="9.2" font-weight="bold" fill="#111" stroke="#111" stroke-width="0.32">Molecular Function</text>
<rect x="475.0" y="2.00" width="161.10" height="77.70" fill="#fde4e4"/>
<rect x="475.0" y="79.70" width="161.10" height="101.60" fill="#e0e2f8"/>
<rect x="475.0" y="181.30" width="161.10" height="34.20" fill="#e9a6db"/>
<rect x="475.0" y="215.50" width="161.10" height="26.10" fill="#f3f6cf"/>
<rect x="475.0" y="241.60" width="161.10" height="33.60" fill="#a9e2e9"/>
<text transform="translate(632.8,8.78) scale(1,1.12)" font-size="6.5" fill="#161616" stroke="#161616" stroke-width="0.18" text-anchor="end">Sensory system</text>
<rect x="637.0" y="4.00" width="13.87" height="2.3" fill="#a52a27"/>
<rect x="637.0" y="6.30" width="14.05" height="2.3" fill="#45ac47"/>
<text transform="translate(632.8,17.33) scale(1,1.12)" font-size="6.5" fill="#161616" stroke="#161616" stroke-width="0.18" text-anchor="end">Nervous system</text>
<rect x="637.0" y="12.55" width="38.19" height="2.3" fill="#a52a27"/>
<rect x="637.0" y="14.85" width="36.17" height="2.3" fill="#45ac47"/>
<text transform="translate(632.8,25.88) scale(1,1.12)" font-size="6.5" fill="#161616" stroke="#161616" stroke-width="0.18" text-anchor="end">Immune system</text>
<rect x="637.0" y="21.10" width="41.00" height="2.3" fill="#a52a27"/>
<rect x="637.0" y="23.40" width="39.60" height="2.3" fill="#45ac47"/>
<text transform="translate(632.8,34.43) scale(1,1.12)" font-size="6.5" fill="#161616" stroke="#161616" stroke-width="0.18" text-anchor="end">Excretory system</text>
<rect x="637.0" y="29.65" width="14.93" height="2.3" fill="#a52a27"/>
<rect x="637.0" y="31.95" width="12.91" height="2.3" fill="#45ac47"/>
<text transform="translate(632.8,42.98) scale(1,1.12)" font-size="6.5" fill="#161616" stroke="#161616" stroke-width="0.18" text-anchor="end">Environmental adaptation</text>
<rect x="637.0" y="38.20" width="13.87" height="2.3" fill="#a52a27"/>
<rect x="637.0" y="40.50" width="10.27" height="2.3" fill="#45ac47"/>
<text transform="translate(632.8,51.52) scale(1,1.12)" font-size="6.5" fill="#161616" stroke="#161616" stroke-width="0.18" text-anchor="end">Endocrine system</text>
<rect x="637.0" y="46.75" width="58.39" height="2.3" fill="#a52a27"/>
<rect x="637.0" y="49.05" width="61.81" height="2.3" fill="#45ac47"/>
<text transform="translate(632.8,60.08) scale(1,1.12)" font-size="6.5" fill="#161616" stroke="#161616" stroke-width="0.18" text-anchor="end">Digestive system</text>
<rect x="637.0" y="55.30" width="33.19" height="2.3" fill="#a52a27"/>
<rect x="637.0" y="57.60" width="33.98" height="2.3" fill="#45ac47"/>
<text transform="translate(632.8,68.63) scale(1,1.12)" font-size="6.5" fill="#161616" stroke="#161616" stroke-width="0.18" text-anchor="end">Development</text>
<rect x="637.0" y="63.85" width="20.72" height="2.3" fill="#a52a27"/>
<rect x="637.0" y="66.15" width="19.67" height="2.3" fill="#45ac47"/>
<text transform="translate(632.8,77.18) scale(1,1.12)" font-size="6.5" fill="#161616" stroke="#161616" stroke-width="0.18" text-anchor="end">Circulatory system</text>
<rect x="637.0" y="72.40" width="22.13" height="2.3" fill="#a52a27"/>
<rect x="637.0" y="74.70" width="21.69" height="2.3" fill="#45ac47"/>
<text transform="translate(632.8,85.73) scale(1,1.12)" font-size="6.5" fill="#161616" stroke="#161616" stroke-width="0.18" text-anchor="end">Xenobiotics biodegradation and metabolism</text>
<rect x="637.0" y="80.95" width="6.85" height="2.3" fill="#a52a27"/>
<rect x="637.0" y="83.25" width="7.90" height="2.3" fill="#45ac47"/>
<text transform="translate(632.8,94.28) scale(1,1.12)" font-size="6.5" fill="#161616" stroke="#161616" stroke-width="0.18" text-anchor="end">Overview</text>
<rect x="637.0" y="89.50" width="23.71" height="2.3" fill="#a52a27"/>
<rect x="637.0" y="91.80" width="21.69" height="2.3" fill="#45ac47"/>
<text transform="translate(632.8,102.83) scale(1,1.12)" font-size="6.5" fill="#161616" stroke="#161616" stroke-width="0.18" text-anchor="end">Nucleotide metabolism</text>
<rect x="637.0" y="98.05" width="27.04" height="2.3" fill="#a52a27"/>
<rect x="637.0" y="100.35" width="19.67" height="2.3" fill="#45ac47"/>
<text transform="translate(632.8,111.38) scale(1,1.12)" font-size="6.5" fill="#161616" stroke="#161616" stroke-width="0.18" text-anchor="end">Metabolism of terpenoids and polyketides</text>
<rect x="637.0" y="106.60" width="2.99" height="2.3" fill="#a52a27"/>
<rect x="637.0" y="108.90" width="2.99" height="2.3" fill="#45ac47"/>
<text transform="translate(632.8,119.93) scale(1,1.12)" font-size="6.5" fill="#161616" stroke="#161616" stroke-width="0.18" text-anchor="end">Metabolism of other amino acids</text>
<rect x="637.0" y="115.15" width="11.77" height="2.3" fill="#a52a27"/>
<rect x="637.0" y="117.45" width="9.83" height="2.3" fill="#45ac47"/>
<text transform="translate(632.8,128.48) scale(1,1.12)" font-size="6.5" fill="#161616" stroke="#161616" stroke-width="0.18" text-anchor="end">Metabolism of cofactors and vitamins</text>
<rect x="637.0" y="123.70" width="15.80" height="2.3" fill="#a52a27"/>
<rect x="637.0" y="126.00" width="15.80" height="2.3" fill="#45ac47"/>
<text transform="translate(632.8,137.03) scale(1,1.12)" font-size="6.5" fill="#161616" stroke="#161616" stroke-width="0.18" text-anchor="end">Lipid metabolism</text>
<rect x="637.0" y="132.25" width="28.01" height="2.3" fill="#a52a27"/>
<rect x="637.0" y="134.55" width="28.97" height="2.3" fill="#45ac47"/>
<text transform="translate(632.8,145.58) scale(1,1.12)" font-size="6.5" fill="#161616" stroke="#161616" stroke-width="0.18" text-anchor="end">Glycan biosynthesis and metabolism</text>
<rect x="637.0" y="140.80" width="22.65" height="2.3" fill="#a52a27"/>
<rect x="637.0" y="143.10" width="24.58" height="2.3" fill="#45ac47"/>
<text transform="translate(632.8,154.13) scale(1,1.12)" font-size="6.5" fill="#161616" stroke="#161616" stroke-width="0.18" text-anchor="end">Energy metabolism</text>
<rect x="637.0" y="149.35" width="15.80" height="2.3" fill="#a52a27"/>
<rect x="637.0" y="151.65" width="16.77" height="2.3" fill="#45ac47"/>
<text transform="translate(632.8,162.68) scale(1,1.12)" font-size="6.5" fill="#161616" stroke="#161616" stroke-width="0.18" text-anchor="end">Carbohydrate metabolism</text>
<rect x="637.0" y="157.90" width="41.00" height="2.3" fill="#a52a27"/>
<rect x="637.0" y="160.20" width="35.65" height="2.3" fill="#45ac47"/>
<text transform="translate(632.8,171.23) scale(1,1.12)" font-size="6.5" fill="#161616" stroke="#161616" stroke-width="0.18" text-anchor="end">Biosynthesis of other secondary metabolites</text>
<rect x="637.0" y="166.45" width="1.49" height="2.3" fill="#a52a27"/>
<rect x="637.0" y="168.75" width="0.53" height="2.3" fill="#45ac47"/>
<text transform="translate(632.8,179.78) scale(1,1.12)" font-size="6.5" fill="#161616" stroke="#161616" stroke-width="0.18" text-anchor="end">Amino acid metabolism</text>
<rect x="637.0" y="175.00" width="28.71" height="2.3" fill="#a52a27"/>
<rect x="637.0" y="177.30" width="28.71" height="2.3" fill="#45ac47"/>
<text transform="translate(632.8,188.33) scale(1,1.12)" font-size="6.5" fill="#161616" stroke="#161616" stroke-width="0.18" text-anchor="end">Translation</text>
<rect x="637.0" y="183.55" width="73.84" height="2.3" fill="#a52a27"/>
<rect x="637.0" y="185.85" width="70.77" height="2.3" fill="#45ac47"/>
<text transform="translate(632.8,196.88) scale(1,1.12)" font-size="6.5" fill="#161616" stroke="#161616" stroke-width="0.18" text-anchor="end">Transcription</text>
<rect x="637.0" y="192.10" width="31.96" height="2.3" fill="#a52a27"/>
<rect x="637.0" y="194.40" width="21.69" height="2.3" fill="#45ac47"/>
<text transform="translate(632.8,205.43) scale(1,1.12)" font-size="6.5" fill="#161616" stroke="#161616" stroke-width="0.18" text-anchor="end">Replication and repair</text>
<rect x="637.0" y="200.65" width="18.79" height="2.3" fill="#a52a27"/>
<rect x="637.0" y="202.95" width="14.75" height="2.3" fill="#45ac47"/>
<text transform="translate(632.8,213.98) scale(1,1.12)" font-size="6.5" fill="#161616" stroke="#161616" stroke-width="0.18" text-anchor="end">Folding, sorting and degradation</text>
<rect x="637.0" y="209.20" width="50.57" height="2.3" fill="#a52a27"/>
<rect x="637.0" y="211.50" width="45.83" height="2.3" fill="#45ac47"/>
<text transform="translate(632.8,222.53) scale(1,1.12)" font-size="6.5" fill="#161616" stroke="#161616" stroke-width="0.18" text-anchor="end">Signaling molecules and interaction</text>
<rect x="637.0" y="217.75" width="22.13" height="2.3" fill="#a52a27"/>
<rect x="637.0" y="220.05" width="19.23" height="2.3" fill="#45ac47"/>
<text transform="translate(632.8,231.08) scale(1,1.12)" font-size="6.5" fill="#161616" stroke="#161616" stroke-width="0.18" text-anchor="end">Signal transduction</text>
<rect x="637.0" y="226.30" width="113.26" height="2.3" fill="#a52a27"/>
<rect x="637.0" y="228.60" width="107.12" height="2.3" fill="#45ac47"/>
<text transform="translate(632.8,239.63) scale(1,1.12)" font-size="6.5" fill="#161616" stroke="#161616" stroke-width="0.18" text-anchor="end">Membrane transport</text>
<rect x="637.0" y="234.85" width="4.92" height="2.3" fill="#a52a27"/>
<rect x="637.0" y="237.15" width="3.86" height="2.3" fill="#45ac47"/>
<text transform="translate(632.8,248.18) scale(1,1.12)" font-size="6.5" fill="#161616" stroke="#161616" stroke-width="0.18" text-anchor="end">Transport and catabolism</text>
<rect x="637.0" y="243.40" width="56.37" height="2.3" fill="#a52a27"/>
<rect x="637.0" y="245.70" width="61.99" height="2.3" fill="#45ac47"/>
<text transform="translate(632.8,256.73) scale(1,1.12)" font-size="6.5" fill="#161616" stroke="#161616" stroke-width="0.18" text-anchor="end">Cellular community</text>
<rect x="637.0" y="251.95" width="45.48" height="2.3" fill="#a52a27"/>
<rect x="637.0" y="254.25" width="46.89" height="2.3" fill="#45ac47"/>
<text transform="translate(632.8,265.27) scale(1,1.12)" font-size="6.5" fill="#161616" stroke="#161616" stroke-width="0.18" text-anchor="end">Cell motility</text>
<rect x="637.0" y="260.50" width="15.98" height="2.3" fill="#a52a27"/>
<rect x="637.0" y="262.80" width="18.00" height="2.3" fill="#45ac47"/>
<text transform="translate(632.8,273.82) scale(1,1.12)" font-size="6.5" fill="#161616" stroke="#161616" stroke-width="0.18" text-anchor="end">Cell growth and death</text>
<rect x="637.0" y="269.05" width="25.99" height="2.3" fill="#a52a27"/>
<rect x="637.0" y="271.35" width="21.77" height="2.3" fill="#45ac47"/>
<text transform="translate(479.8,44.8) scale(1,1.18)" font-size="6.95" font-weight="bold" fill="#111" stroke="#111" stroke-width="0.32">Organismal Systems</text>
<text transform="translate(482,134.7) scale(1,1.18)" font-size="6.95" font-weight="bold" fill="#111" stroke="#111" stroke-width="0.32">Metabolism</text>
<text x="479.8" y="191.7" font-size="7.8" font-weight="bold" fill="#111" stroke="#111" stroke-width="0.32">Genetic</text>
<text x="479.8" y="202.0" font-size="7.8" font-weight="bold" fill="#111" stroke="#111" stroke-width="0.32">Information</text>
<text x="479.8" y="212.1" font-size="7.8" font-weight="bold" fill="#111" stroke="#111" stroke-width="0.32">Processing</text>
<text transform="translate(479.8,222.3) scale(1,1.15)" font-size="6.95" font-weight="bold" fill="#111" stroke="#111" stroke-width="0.32">Environmental</text>
<text transform="translate(479.8,230.7) scale(1,1.15)" font-size="6.95" font-weight="bold" fill="#111" stroke="#111" stroke-width="0.32">Information</text>
<text transform="translate(479.8,239.0) scale(1,1.15)" font-size="6.95" font-weight="bold" fill="#111" stroke="#111" stroke-width="0.32">Processing</text>
<text transform="translate(479.8,259.7) scale(1,1.18)" font-size="6.95" font-weight="bold" fill="#111" stroke="#111" stroke-width="0.32">Cellular Processes</text>
<polygon points="676.67,96.65 677.14,98.89 679.37,99.44 677.38,100.58 677.55,102.87 675.85,101.33 673.73,102.19 674.66,100.10 673.19,98.35 675.46,98.60" fill="#111"/>
<polygon points="682.97,190.95 683.44,193.19 685.67,193.74 683.68,194.88 683.85,197.17 682.15,195.63 680.03,196.49 680.96,194.40 679.49,192.65 681.76,192.90" fill="#111"/>
<text x="486.1" y="17.0" font-size="14.9" font-weight="bold" fill="#111" stroke="#111" stroke-width="0.32">(B)</text>
<line x1="637.0" y1="2.0" x2="637.0" y2="275.60" stroke="#8c9ab8" stroke-width="0.9"/>
<line x1="635.2" y1="2.00" x2="637.0" y2="2.00" stroke="#8c9ab8" stroke-width="0.7"/>
<line x1="635.2" y1="10.55" x2="637.0" y2="10.55" stroke="#8c9ab8" stroke-width="0.7"/>
<line x1="635.2" y1="19.10" x2="637.0" y2="19.10" stroke="#8c9ab8" stroke-width="0.7"/>
<line x1="635.2" y1="27.65" x2="637.0" y2="27.65" stroke="#8c9ab8" stroke-width="0.7"/>
<line x1="635.2" y1="36.20" x2="637.0" y2="36.20" stroke="#8c9ab8" stroke-width="0.7"/>
<line x1="635.2" y1="44.75" x2="637.0" y2="44.75" stroke="#8c9ab8" stroke-width="0.7"/>
<line x1="635.2" y1="53.30" x2="637.0" y2="53.30" stroke="#8c9ab8" stroke-width="0.7"/>
<line x1="635.2" y1="61.85" x2="637.0" y2="61.85" stroke="#8c9ab8" stroke-width="0.7"/>
<line x1="635.2" y1="70.40" x2="637.0" y2="70.40" stroke="#8c9ab8" stroke-width="0.7"/>
<line x1="635.2" y1="78.95" x2="637.0" y2="78.95" stroke="#8c9ab8" stroke-width="0.7"/>
<line x1="635.2" y1="87.50" x2="637.0" y2="87.50" stroke="#8c9ab8" stroke-width="0.7"/>
<line x1="635.2" y1="96.05" x2="637.0" y2="96.05" stroke="#8c9ab8" stroke-width="0.7"/>
<line x1="635.2" y1="104.60" x2="637.0" y2="104.60" stroke="#8c9ab8" stroke-width="0.7"/>
<line x1="635.2" y1="113.15" x2="637.0" y2="113.15" stroke="#8c9ab8" stroke-width="0.7"/>
<line x1="635.2" y1="121.70" x2="637.0" y2="121.70" stroke="#8c9ab8" stroke-width="0.7"/>
<line x1="635.2" y1="130.25" x2="637.0" y2="130.25" stroke="#8c9ab8" stroke-width="0.7"/>
<line x1="635.2" y1="138.80" x2="637.0" y2="138.80" stroke="#8c9ab8" stroke-width="0.7"/>
<line x1="635.2" y1="147.35" x2="637.0" y2="147.35" stroke="#8c9ab8" stroke-width="0.7"/>
<line x1="635.2" y1="155.90" x2="637.0" y2="155.90" stroke="#8c9ab8" stroke-width="0.7"/>
<line x1="635.2" y1="164.45" x2="637.0" y2="164.45" stroke="#8c9ab8" stroke-width="0.7"/>
<line x1="635.2" y1="173.00" x2="637.0" y2="173.00" stroke="#8c9ab8" stroke-width="0.7"/>
<line x1="635.2" y1="181.55" x2="637.0" y2="181.55" stroke="#8c9ab8" stroke-width="0.7"/>
<line x1="635.2" y1="190.10" x2="637.0" y2="190.10" stroke="#8c9ab8" stroke-width="0.7"/>
<line x1="635.2" y1="198.65" x2="637.0" y2="198.65" stroke="#8c9ab8" stroke-width="0.7"/>
<line x1="635.2" y1="207.20" x2="637.0" y2="207.20" stroke="#8c9ab8" stroke-width="0.7"/>
<line x1="635.2" y1="215.75" x2="637.0" y2="215.75" stroke="#8c9ab8" stroke-width="0.7"/>
<line x1="635.2" y1="224.30" x2="637.0" y2="224.30" stroke="#8c9ab8" stroke-width="0.7"/>
<line x1="635.2" y1="232.85" x2="637.0" y2="232.85" stroke="#8c9ab8" stroke-width="0.7"/>
<line x1="635.2" y1="241.40" x2="637.0" y2="241.40" stroke="#8c9ab8" stroke-width="0.7"/>
<line x1="635.2" y1="249.95" x2="637.0" y2="249.95" stroke="#8c9ab8" stroke-width="0.7"/>
<line x1="635.2" y1="258.50" x2="637.0" y2="258.50" stroke="#8c9ab8" stroke-width="0.7"/>
<line x1="635.2" y1="267.05" x2="637.0" y2="267.05" stroke="#8c9ab8" stroke-width="0.7"/>
<line x1="635.2" y1="275.60" x2="637.0" y2="275.60" stroke="#8c9ab8" stroke-width="0.7"/>
<line x1="637.0" y1="275.60" x2="768.70" y2="275.60" stroke="#8a8a8a" stroke-width="0.9"/>
<line x1="637.00" y1="275.60" x2="637.00" y2="277.80" stroke="#8a8a8a" stroke-width="0.8"/>
<text class="s" x="637.00" y="286.7" font-size="6.0" fill="#222" text-anchor="middle" stroke="#222" stroke-width="0.32">0.00%</text>
<line x1="680.90" y1="275.60" x2="680.90" y2="277.80" stroke="#8a8a8a" stroke-width="0.8"/>
<text class="s" x="680.90" y="286.7" font-size="6.0" fill="#222" text-anchor="middle" stroke="#222" stroke-width="0.32">5.00%</text>
<line x1="724.80" y1="275.60" x2="724.80" y2="277.80" stroke="#8a8a8a" stroke-width="0.8"/>
<text class="s" x="724.80" y="286.7" font-size="6.0" fill="#222" text-anchor="middle" stroke="#222" stroke-width="0.32">10.00%</text>
<line x1="768.70" y1="275.60" x2="768.70" y2="277.80" stroke="#8a8a8a" stroke-width="0.8"/>
<text class="s" x="768.70" y="286.7" font-size="6.0" fill="#222" text-anchor="middle" stroke="#222" stroke-width="0.32">15.00%</text>
<text x="679" y="301.8" font-size="9.9" font-weight="bold" fill="#111" stroke="#111" stroke-width="0.32">Percent of genes</text>
<rect x="726" y="15.5" width="5" height="4.4" fill="#a52a27"/>
<rect x="726" y="27.7" width="5" height="4.4" fill="#45ac47"/>
<text x="734.0" y="19.9" font-size="6.45" font-style="italic" fill="#111" stroke="#111" stroke-width="0.28">G. gigas</text>
<text x="734.0" y="32.1" font-size="6.45" font-style="italic" fill="#111" stroke="#111" stroke-width="0.28">O. warwickii</text>
</g></svg></body></html>
